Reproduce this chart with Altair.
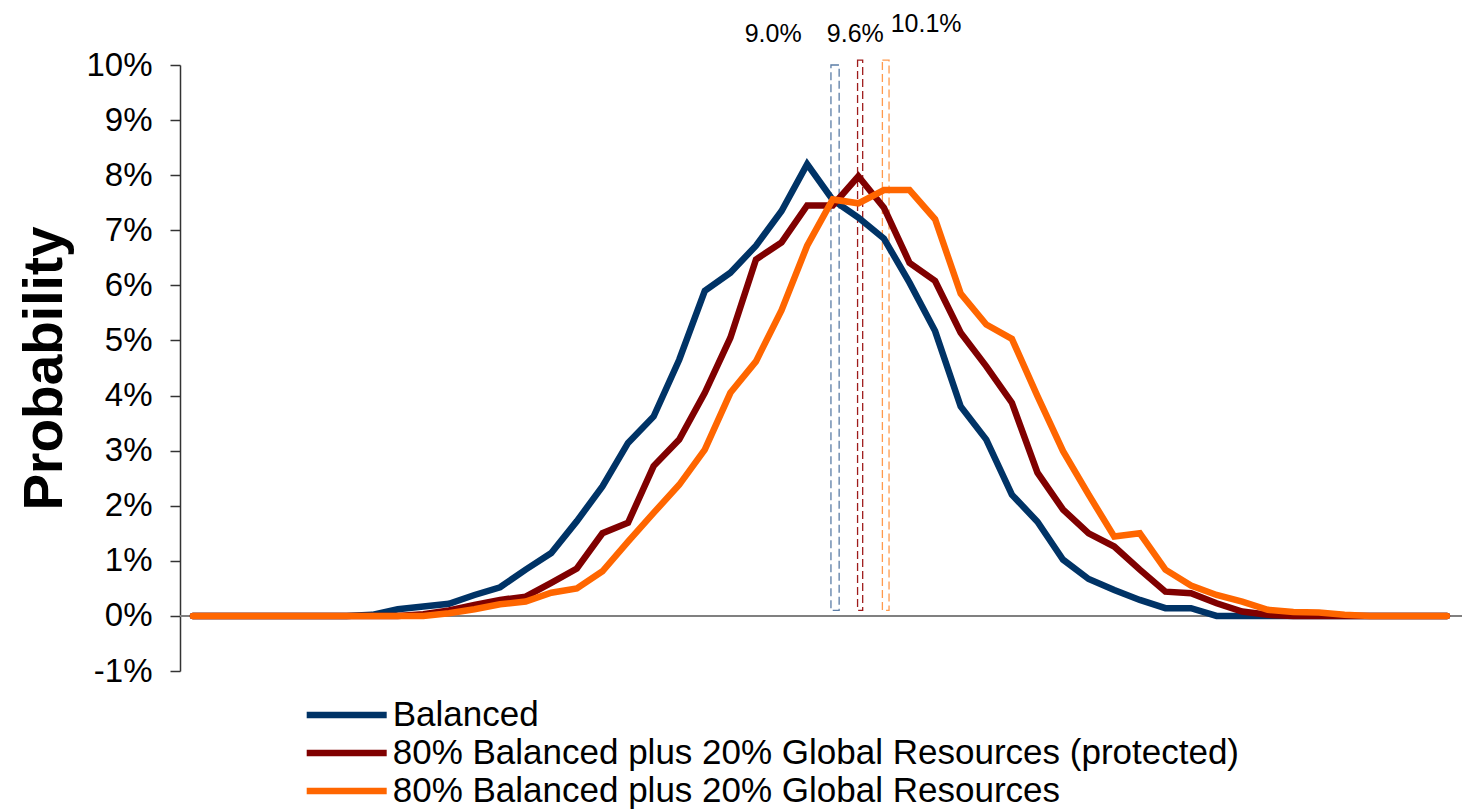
import altair as alt
import pandas as pd

# ---------------- data ----------------
steps = list(range(50))

balanced = [0, 0, 0, 0, 0, 0, 0, 0.02, 0.12, 0.17,
            0.22, 0.38, 0.52, 0.84, 1.14, 1.72, 2.35, 3.14, 3.62, 4.65,
            5.9, 6.23, 6.72, 7.35, 8.2, 7.55, 7.23, 6.85, 6.05, 5.17,
            3.8, 3.2, 2.2, 1.71, 1.02, 0.67, 0.47, 0.29, 0.14, 0.14,
            0, 0, 0, 0, 0, 0, 0, 0, 0, 0]

protected = [0, 0, 0, 0, 0, 0, 0, 0, 0, 0.03,
             0.1, 0.2, 0.29, 0.35, 0.6, 0.86, 1.5, 1.69, 2.72, 3.2,
             4.05, 5.05, 6.47, 6.78, 7.45, 7.45, 7.98, 7.41, 6.41, 6.08,
             5.14, 4.53, 3.87, 2.6, 1.93, 1.5, 1.26, 0.84, 0.44, 0.41,
             0.23, 0.08, 0.02, 0, 0, 0, 0, 0, 0, 0]

global_res = [0, 0, 0, 0, 0, 0, 0, 0, 0, 0,
              0.05, 0.12, 0.21, 0.26, 0.42, 0.5, 0.81, 1.35, 1.87, 2.38,
              3.02, 4.05, 4.62, 5.55, 6.72, 7.56, 7.49, 7.73, 7.73, 7.2,
              5.85, 5.29, 5.03, 3.99, 2.99, 2.2, 1.44, 1.5, 0.84, 0.55,
              0.38, 0.26, 0.11, 0.07, 0.06, 0.02, 0, 0, 0, 0]

series_names = ["Balanced",
                "80% Balanced plus 20% Global Resources (protected)",
                "80% Balanced plus 20% Global Resources"]
series_colors = ["#003366", "#800000", "#FF6600"]

marker_labels = ["9.0%", "9.6%", "10.1%"]
marker_left = [24.93, 25.97, 26.94]
marker_right = [25.25, 26.17, 27.2]
marker_bottom = [0.1, 0.1, 0.1]
marker_top = [10.0, 10.09, 10.09]
marker_colors = ["#5b7da6", "#9e1b1b", "#ff9a4d"]
label_x = [22.67, 25.88, 28.65]
label_y = [10.42, 10.42, 10.6]

y_ticks = list(range(-1, 11))

# ---------------- tables ----------------
rows = []
for name, vals in zip(series_names, [balanced, protected, global_res]):
    for s, v in zip(steps, vals):
        rows.append({"step": s, "prob": v, "series": name})
df = pd.DataFrame(rows)

markers = pd.DataFrame({"x": marker_left, "x2": marker_right,
                        "y": marker_bottom, "y2": marker_top,
                        "c": marker_colors})
labels = pd.DataFrame({"x": label_x, "y": label_y, "t": marker_labels})
zero = pd.DataFrame({"y": [0]})

FONT = "Liberation Sans"

x_scale = alt.Scale(domain=[-0.508, 49.59], nice=False, zero=False)
y_scale = alt.Scale(domain=[-1, 10], nice=False, zero=False)
color_scale = alt.Scale(domain=series_names, range=series_colors)

y_axis = alt.Axis(values=y_ticks, labelExpr="datum.value + '%'", grid=False,
                  title="Probability", titleFont=FONT, titleFontSize=55,
                  titleFontWeight="bold", titleColor="black", titlePadding=12,
                  labelFont=FONT, labelFontSize=33, labelColor="black",
                  labelPadding=18, tickSize=10, tickColor="#333333",
                  tickWidth=1.5, domainColor="#333333", domainWidth=1.5)

legend = alt.Legend(title=None, orient="none", direction="vertical",
                    legendX=149.2, legendY=632.5, padding=0,
                    symbolType="M-16,0L16,0", symbolSize=25,
                    symbolStrokeWidth=6.5, symbolOffset=0,
                    labelFont=FONT, labelFontSize=35, labelColor="black",
                    labelLimit=3000, labelOffset=28.5, rowPadding=2)

zero_rule = alt.Chart(zero).mark_rule(color="#808080", strokeWidth=2).encode(
    y=alt.Y("y:Q", scale=y_scale, axis=y_axis)
)

rects = alt.Chart(markers).mark_rect(filled=False, strokeDash=[8, 4],
                                     strokeWidth=1.3).encode(
    x=alt.X("x:Q", scale=x_scale, axis=None),
    x2="x2:Q",
    y=alt.Y("y:Q", scale=y_scale, axis=y_axis),
    y2="y2:Q",
    stroke=alt.Stroke("c:N", scale=None),
)

def line_layer(name):
    return alt.Chart(df).transform_filter(
        alt.datum.series == name
    ).mark_line(strokeWidth=6.5, strokeCap="round").encode(
        x=alt.X("step:Q", scale=x_scale, axis=None),
        y=alt.Y("prob:Q", scale=y_scale, axis=y_axis),
        color=alt.Color("series:N", scale=color_scale, legend=legend),
    )

texts = alt.Chart(labels).mark_text(font=FONT, fontSize=25, color="black",
                                    align="center", baseline="alphabetic").encode(
    x=alt.X("x:Q", scale=x_scale, axis=None),
    y=alt.Y("y:Q", scale=y_scale, axis=y_axis),
    text="t:N",
)

chart = alt.layer(
    zero_rule, rects,
    line_layer(series_names[0]),
    line_layer(series_names[1]),
    line_layer(series_names[2]),
    texts,
).properties(
    width=1282, height=606,
    autosize=alt.AutoSizeParams(type="none"),
    padding={"left": 172, "top": 57, "right": 0, "bottom": 146},
    background="white",
).configure_view(stroke=None)

chart.save("out.html", embed_options={"renderer": "svg", "actions": False})
